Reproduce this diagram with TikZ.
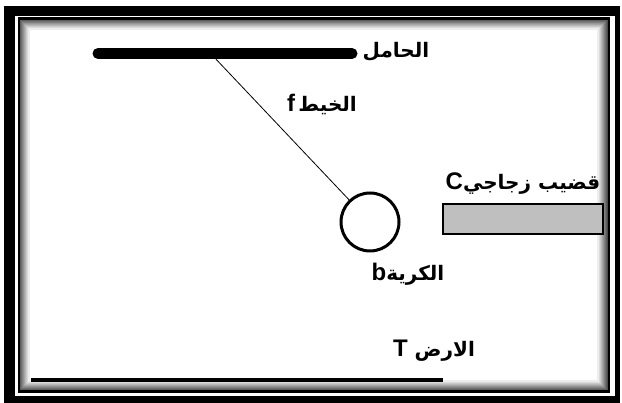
\documentclass[tikz,border=0pt]{standalone}
\usepackage{fontspec}
\setmainfont{Liberation Sans}
\newfontfamily\arabicfont[Script=Arabic]{DejaVu Sans}
\TeXXeTstate=1

\tikzset{
  lbl/.style={inner sep=0pt, font=\arabicfont\bfseries\fontsize{20}{24}\selectfont}
}
\newcommand{\latin}[1]{{\normalfont\bfseries\fontsize{24}{26}\selectfont #1}}

\begin{document}
\begin{tikzpicture}[x=1pt,y=-1pt]
            \useasboundingbox (0,0) rectangle (622,403);
            % frame
            \fill[black] (4,6) rectangle (620,403);
            \fill[white] (15,16) rectangle (615,396);
            \foreach \i in {0,...,9}{
                \pgfmathsetmacro{\shade}{70-7*\i}
                \draw[black!\shade, line width=1.2pt] (20+\i,20+\i) rectangle (607-\i,390-\i);
            }
            \draw[line width=2.5pt] (18.75,18.75) rectangle (609,391.5);
            % support and thread
            \coordinate (barL) at (98,53.5);
            \coordinate (barR) at (352,53.5);
            \coordinate (hook) at (213,56);
            \draw[line width=11pt, line cap=round] (barL)--(barR);
            \node[circle, draw, line width=3pt, minimum size=58pt, inner sep=0pt] (ball) at (370,222) {};
            \draw[line width=0.8pt] (hook)--(ball);
            % glass rod and ground
            \node[draw, line width=1.3pt, fill=black!25, minimum width=160pt, minimum height=30pt, inner sep=0pt] (rod) at (523,219) {};
            \coordinate (gndL) at (31,380);
            \coordinate (gndR) at (443,380);
            \draw[line width=4pt] (gndL)--(gndR);
            % labels
            \node[lbl] (holder) at (396,52) {\beginR الحامل\endR};
            \node[lbl] (thread) at (322,104) {\beginR الخيط\,\latin{f}\endR};
            \node[lbl] (rodtxt) at (523,184) {\beginR قضيب زجاجي\latin{C}\endR};
            \node[lbl] (balltxt) at (408,274) {\beginR الكرية\latin{b}\endR};
            \node[lbl] (gndtxt) at (434,351) {\beginR الارض \latin{T}\endR};
        \end{tikzpicture}
\end{document}
